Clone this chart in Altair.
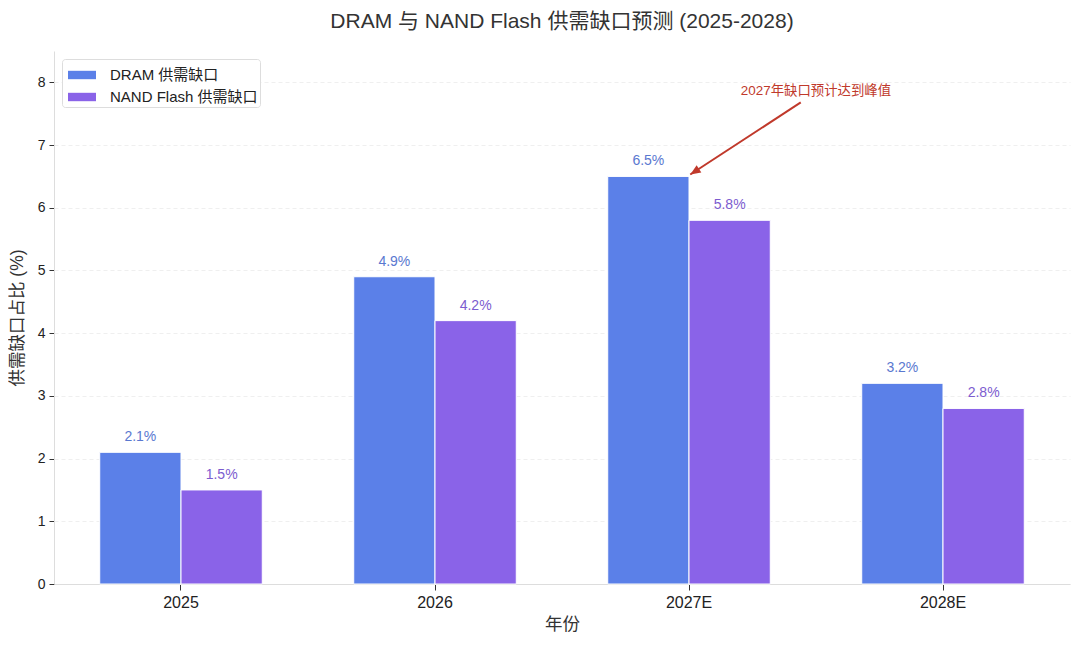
"""DRAM / NAND Flash supply-demand gap forecast, grouped bars with a peak note."""

import altair as alt
import pandas as pd

years = ["2025", "2026", "2027E", "2028E"]
series = ["DRAM 供需缺口", "NAND Flash 供需缺口"]
dram_gap = [2.1, 4.9, 6.5, 3.2]
nand_gap = [1.5, 4.2, 5.8, 2.8]
y_ticks = [0, 1, 2, 3, 4, 5, 6, 7, 8]

# peak note, in group-index units (0 = 2025) and percent
note_text = "2027年缺口预计达到峰值"
note_pos = [2.5, 7.87]
arrow_from = [2.44, 7.68]
arrow_to = [2.005, 6.53]

FONT = "Liberation Sans, Noto Sans CJK SC, sans-serif"
BAR_COLORS = ["#5b80e8", "#8a63e8"]
LABEL_COLORS = ["#5a78d0", "#7c5ccf"]
NOTE_COLOR = "#c0392b"


def main() -> None:
    rows = []
    for name, values in zip(series, [dram_gap, nand_gap]):
        for year, value in zip(years, values):
            rows.append({"year": year, "series": name, "gap": value})
    df = pd.DataFrame(rows)

    x_enc = alt.X(
        "year:N",
        sort=years,
        scale=alt.Scale(paddingInner=0.36, paddingOuter=0.18),
        axis=alt.Axis(
            title="年份", labelAngle=0, labelFontSize=16, titleFontSize=17.5,
            titleFontWeight="normal", labelColor="#222", titleColor="#333",
            titlePadding=5, tickColor="#333", tickSize=6, domainColor="#dddddd",
            labelPadding=4,
        ),
    )
    off_enc = alt.XOffset("series:N", sort=series,
                          scale=alt.Scale(paddingInner=0, paddingOuter=0))
    y_enc = alt.Y(
        "gap:Q",
        scale=alt.Scale(domain=[0, 8.5], nice=False),
        axis=alt.Axis(
            title="供需缺口占比 (%)", values=y_ticks, format="d", labelFontSize=14,
            titleFontSize=17.5, titleFontWeight="normal", labelColor="#222",
            titleColor="#333", titlePadding=11, tickColor="#333", tickSize=5,
            labelPadding=4, domainColor="#dddddd", grid=True, gridColor="#ebebeb",
            gridDash=[4, 3], gridWidth=0.8,
        ),
    )

    bars = alt.Chart(df).mark_bar(stroke="white", strokeWidth=1).encode(
        x=x_enc,
        xOffset=off_enc,
        y=y_enc,
        color=alt.Color(
            "series:N",
            sort=series,
            scale=alt.Scale(domain=series, range=BAR_COLORS),
            legend=alt.Legend(
                title=None, orient="top-left", offset=8, labelFontSize=15,
                labelColor="#222", symbolType="M-1,-0.3H1V0.3H-1Z",
                symbolSize=784, symbolStrokeWidth=0, labelOffset=14,
                symbolOffset=4, strokeColor="#dddddd", fillColor="white",
                padding=2, cornerRadius=3, rowPadding=0,
            ),
        ),
    )

    labels = []
    for name, colour in zip(series, LABEL_COLORS):
        labels.append(
            alt.Chart(df)
            .transform_filter(alt.datum.series == name)
            .transform_calculate(label="format(datum.gap, '.1f') + '%'")
            .mark_text(dy=-15, fontSize=14, color=colour, baseline="middle")
            .encode(x=alt.X("year:N", sort=years), xOffset=off_enc,
                    y="gap:Q", text="label:N")
        )

    base = alt.layer(bars, *labels)

    note_x = alt.X("x:Q", scale=alt.Scale(domain=[-0.5, 3.5], nice=False, zero=False),
                   axis=None)
    arrow_df = pd.DataFrame([{"x": arrow_from[0], "y": arrow_from[1],
                              "x2": arrow_to[0], "y2": arrow_to[1]}])
    arrow = alt.Chart(arrow_df).mark_rule(color=NOTE_COLOR, strokeWidth=2).encode(
        x=note_x, y=alt.Y("y:Q"), x2="x2:Q", y2="y2:Q"
    )
    head_df = pd.DataFrame([{"x": arrow_to[0], "y": arrow_to[1]}])
    head = alt.Chart(head_df).mark_point(
        shape="M0,0L-0.5,1.2L0.5,1.2Z", filled=True, opacity=1,
        color=NOTE_COLOR, size=300, angle=237, strokeWidth=0,
    ).encode(x=note_x, y=alt.Y("y:Q"))
    note_df = pd.DataFrame([{"x": note_pos[0], "y": note_pos[1], "text": note_text}])
    note = alt.Chart(note_df).mark_text(
        color=NOTE_COLOR, fontSize=13.4, baseline="middle"
    ).encode(x=note_x, y=alt.Y("y:Q"), text="text:N")

    chart = (
        alt.layer(base, arrow, head, note)
        .resolve_scale(x="independent")
        .properties(
            width=1016,
            height=533,
            autosize=alt.AutoSizeParams(type="none"),
            padding={"left": 46, "top": 43, "right": 2, "bottom": 53},
            title=alt.TitleParams(
                "DRAM 与 NAND Flash 供需缺口预测 (2025-2028)",
                fontSize=21, fontWeight="normal", color="#333", offset=19,
            ),
        )
        .configure(font=FONT)
        .configure_view(stroke=None)
    )

    chart.save("out.html", embed_options={"renderer": "svg", "actions": False})


if __name__ == "__main__":
    main()
